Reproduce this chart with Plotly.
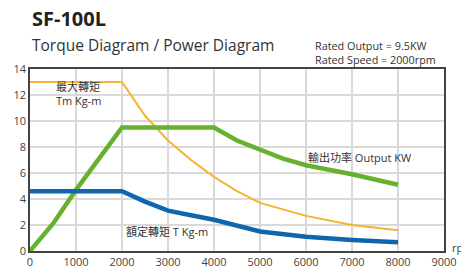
import plotly.graph_objects as go

rpm_max = [0, 500, 1000, 1500, 2000, 2500, 3000, 3500, 4000, 4500, 5000, 6000, 7000, 8000]
max_torque = [13, 13, 13, 13, 13, 10.4, 8.5, 7.0, 5.7, 4.6, 3.7, 2.7, 2.0, 1.6]

rpm_pow = [0, 500, 1000, 1500, 2000, 3000, 4000, 4500, 5000, 5500, 6000, 7000, 8000]
power = [0, 2.1, 4.7, 7.1, 9.5, 9.5, 9.5, 8.5, 7.8, 7.1, 6.6, 5.9, 5.1]

rpm_rt = [0, 1000, 2000, 2500, 3000, 3500, 4000, 5000, 6000, 7000, 8000]
rated_torque = [4.6, 4.6, 4.6, 3.8, 3.1, 2.75, 2.4, 1.5, 1.1, 0.85, 0.67]

x_ticks = [0, 1000, 2000, 3000, 4000, 5000, 6000, 7000, 8000, 9000]
y_ticks = [0, 2, 4, 6, 8, 10, 12, 14]

FONT = "Open Sans, Noto Sans CJK TC, sans-serif"

fig = go.Figure()
fig.add_trace(go.Scatter(x=rpm_max, y=max_torque, mode="lines",
                         line=dict(color="#F5B335", width=2)))
fig.add_trace(go.Scatter(x=rpm_pow, y=power, mode="lines",
                         line=dict(color="#66B22E", width=4.5)))
fig.add_trace(go.Scatter(x=rpm_rt, y=rated_torque, mode="lines",
                         line=dict(color="#0F66AE", width=4.5)))

ann = [
    dict(x=0.0, y=1.0, xref="paper", yref="paper", text="<b>SF-100L</b>",
         font=dict(size=20, color="#222"), xanchor="left", yanchor="middle", yshift=51),
    dict(x=0.0, y=1.0, xref="paper", yref="paper", text="Torque Diagram / Power Diagram",
         font=dict(size=15.5, color="#333"), xanchor="left", yanchor="middle", yshift=24),
    dict(x=0.684, y=1.0, xref="paper", yref="paper",
         text="Rated Output = 9.5KW<br>Rated Speed = 2000rpm",
         font=dict(size=10.8, color="#333"), xanchor="left", yanchor="middle", align="left", yshift=17),
    dict(x=530, y=12.1, text="最大轉矩<br>Tm Kg-m", showarrow=False, xanchor="left",
         align="left", font=dict(size=11, color="#333")),
    dict(x=2050, y=1.5, text="額定轉矩 T Kg-m", showarrow=False, xanchor="left",
         font=dict(size=11, color="#333")),
    dict(x=6000, y=7.2, text="輸出功率 Output KW", showarrow=False, xanchor="left",
         font=dict(size=11, color="#333")),
    dict(x=1.0, y=0.0, xref="paper", yref="paper", text="rpm", showarrow=False,
         xanchor="left", yanchor="middle", xshift=6, yshift=4, font=dict(size=11, color="#444")),
]
for a in ann:
    a.setdefault("showarrow", False)

fig.update_layout(
    width=461, height=268,
    margin=dict(l=30, r=17, t=69, b=17),
    paper_bgcolor="white", plot_bgcolor="white",
    showlegend=False,
    font=dict(family=FONT, size=11, color="#444"),
    annotations=ann,
)
fig.update_xaxes(range=[0, 9000], tickvals=x_ticks, showgrid=True, gridcolor="#d9d9d9",
                 gridwidth=1.5, showline=True, linecolor="#444", linewidth=1.5, mirror=True,
                 zeroline=False, ticks="", automargin=False, tickfont=dict(size=11, color="#444"))
fig.update_yaxes(range=[0, 14], tickvals=y_ticks, showgrid=True, gridcolor="#d9d9d9",
                 gridwidth=1.5, showline=True, linecolor="#444", linewidth=1.5, mirror=True,
                 zeroline=False, ticks="", automargin=False, tickfont=dict(size=11, color="#444"))

fig.write_html("out.html", config={"displayModeBar": False},
               post_script="document.body.style.margin='0';document.body.style.overflow='hidden';")
